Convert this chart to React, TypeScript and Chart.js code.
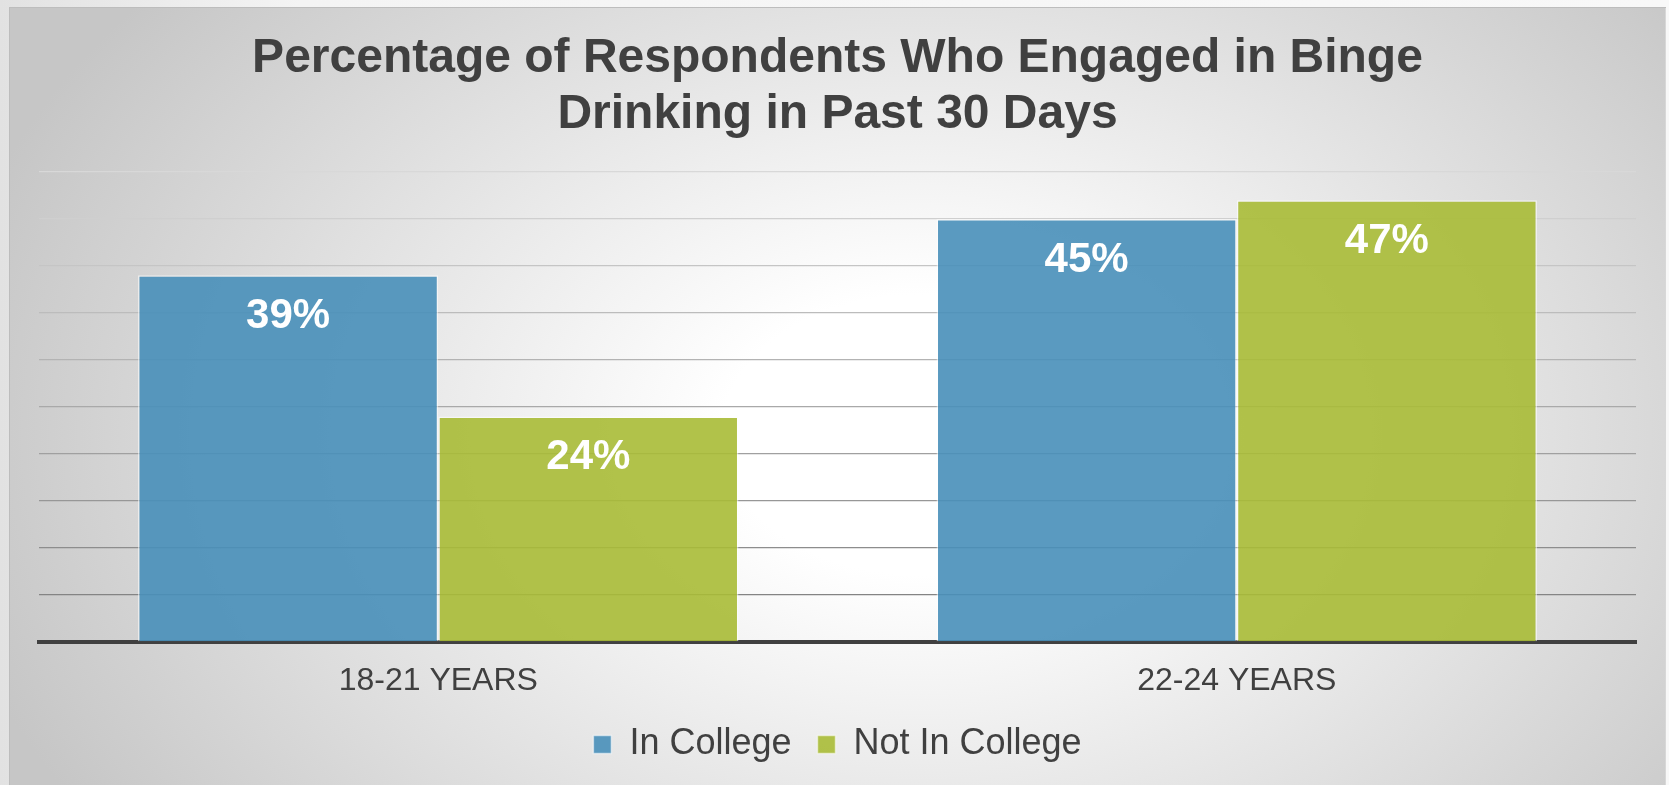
import React, { useEffect, useRef } from "react";
import { Chart, registerables } from "chart.js";

Chart.register(...registerables);

const categories = ["18-21 YEARS", "22-24 YEARS"];
const seriesNames = ["In College", "Not In College"];
const inCollegeValues = [39, 45];
const notInCollegeValues = [24, 47];
const titleLines = ["Percentage of Respondents Who Engaged in Binge", "Drinking in Past 30 Days"];
const yMin = 0;
const yMax = 50;
const yStep = 5;

const FONT = "'Liberation Sans', Arial, Helvetica, sans-serif";
const BLUE = "rgba(72,143,185,0.9)";
const GREEN = "rgba(169,187,54,0.9)";

const valueLabels = {
  id: "valueLabels",
  afterDatasetsDraw(chart: any) {
    const ctx = chart.ctx;
    ctx.save();
    ctx.font = `bold 42px ${FONT}`;
    ctx.fillStyle = "#ffffff";
    ctx.textAlign = "center";
    ctx.textBaseline = "alphabetic";
    chart.data.datasets.forEach((ds: any, di: number) => {
      const meta = chart.getDatasetMeta(di);
      meta.data.forEach((el: any, i: number) => {
        ctx.fillText(`${ds.data[i]}%`, el.x, el.y + 53);
      });
    });
    ctx.restore();
  },
};

export default function App() {
  const ref = useRef<HTMLCanvasElement | null>(null);
  useEffect(() => {
    const canvas = ref.current;
    if (!canvas) return;
    const chart = new Chart(canvas, {
      type: "bar",
      data: {
        labels: categories,
        datasets: [
          {
            label: seriesNames[0],
            data: inCollegeValues,
            backgroundColor: BLUE,
            borderColor: "rgba(255,255,255,0.55)",
            borderWidth: 1.5,
            borderSkipped: "bottom",
            categoryPercentage: 0.752,
            barPercentage: 1,
          },
          {
            label: seriesNames[1],
            data: notInCollegeValues,
            backgroundColor: GREEN,
            borderColor: "rgba(255,255,255,0.55)",
            borderWidth: 1.5,
            borderSkipped: "bottom",
            categoryPercentage: 0.752,
            barPercentage: 1,
          },
        ],
      },
      options: {
        responsive: false,
        animation: false,
        layout: { padding: { left: 30, right: 30, top: 0, bottom: 12.6 } },
        plugins: {
          title: {
            display: true,
            text: titleLines,
            color: "#404040",
            font: { family: FONT, size: 48, weight: "bold", lineHeight: 1.16 },
            padding: { top: 24.2, bottom: 29.4 },
          },
          legend: {
            display: true,
            position: "bottom",
            labels: {
              color: "#404040",
              font: { family: FONT, size: 36 },
              boxWidth: 18,
              boxHeight: 18,
              padding: 26,
            },
          },
          tooltip: { enabled: false },
        },
        scales: {
          x: {
            grid: { display: false, drawTicks: false },
            border: { display: true, color: "#404040", width: 4 },
            ticks: {
              color: "#404040",
              font: { family: FONT, size: 32, lineHeight: 1.2 },
              padding: 20,
            },
            afterFit: (scale: any) => {
              scale.height = 58.4;
            },
          },
          y: {
            min: yMin,
            max: yMax,
            ticks: { display: false, stepSize: yStep },
            border: { display: false },
            grid: {
              drawTicks: false,
              lineWidth: 1.3,
              color: (ctx: any) => {
                const v = ctx.tick ? ctx.tick.value : 0;
                if (v <= 0) return "rgba(0,0,0,0)";
                const t = (v - yStep) / (yMax - yStep);
                const c = Math.round(132 + t * (216 - 132));
                return `rgb(${c},${c},${c})`;
              },
            },
          },
        },
      },
      plugins: [valueLabels],
    });
    return () => chart.destroy();
  }, []);

  return (
    <div
      style={{
        position: "absolute",
        left: 0,
        top: 0,
        width: 1669,
        height: 785,
        overflow: "hidden",
        background: "linear-gradient(90deg, #e2e2e2 0px, #f4f4f4 300px, #f8f8f8 100%)",
      }}
    >
      <div
        style={{
          position: "absolute",
          left: 9,
          top: 7,
          width: 1657,
          height: 778,
          background:
            "radial-gradient(ellipse 60% 90% at 55% 55%, #ffffff 20%, #c6c6c6 100%)",
          boxShadow: "inset 0 1px 0 #bdbdbd, inset 1px 0 0 #bdbdbd, inset -1px 0 0 #d8d8d8",
        }}
      >
        <canvas ref={ref} width={1657} height={778} style={{ display: "block" }} />
      </div>
    </div>
  );
}
